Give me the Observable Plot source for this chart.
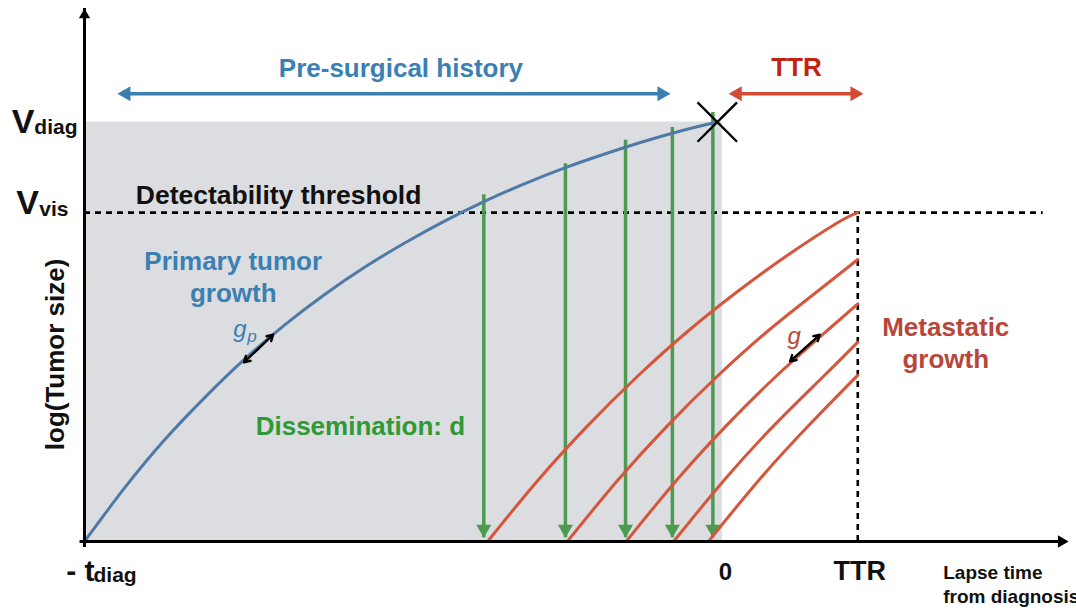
<!DOCTYPE html>
<html><head><meta charset="utf-8">
<script src="https://cdn.jsdelivr.net/npm/d3@7"></script>
<script src="https://cdn.jsdelivr.net/npm/@observablehq/plot@0.6"></script>
<style>
html,body{margin:0;padding:0;background:#fff;}
#chart{width:1076px;height:608px;overflow:hidden;}
</style></head><body><div id="chart"></div>
<script>
// ---------- data (x: time, -100 = -t_diag, 0 = diagnosis; y: log tumour size) ----------
const T_DIAG = -100;
const T_TTR = 22.2;
const X_END = 55.5;
const Y_END = 100;
const V_DIAG = 78.7;
const V_VIS = 61.7;
const GRAY_END = 0.8;
const THRESH_END = 51.5;

const primaryT = [-100, -93.7, -87.4, -81.0, -74.7, -68.4, -62.1, -55.8, -49.4, -43.1, -36.8, -30.5, -24.1, -17.8, -11.5, -5.2, 0];
const primaryV = [0, 10.0, 19.0, 27.0, 34.2, 40.6, 46.3, 51.4, 56.0, 60.1, 63.8, 67.1, 70.1, 72.7, 75.1, 77.2, 78.7];

const metaT = [
  [-36.3, -28.4, -20.5, -12.6, -4.7, 3.2, 11.1, 19.0, 22.2],
  [-23.7, -15.8, -7.9, 0.0, 7.9, 15.8, 22.2],
  [-14.4, -6.5, 1.4, 9.3, 17.2, 22.2],
  [-6.9, 1.0, 8.9, 16.8, 22.2],
  [-1.4, 6.5, 14.4, 22.2]
];
const metaV = [
  [0, 11.4, 21.7, 31.0, 39.4, 46.9, 53.7, 59.8, 61.7],
  [0, 11.4, 21.7, 31.0, 39.4, 46.9, 52.9],
  [0, 11.4, 21.7, 31.0, 39.4, 44.6],
  [0, 11.4, 21.7, 31.0, 37.4],
  [0, 11.4, 21.7, 31.2]
];

const dissemT = [-36.9, -24.0, -14.5, -7.1, -0.7];
const dissemTop = [63.2, 69.0, 73.4, 75.8, 78.6];
const dissemTip = 0.7;

const preSurgSpan = [-94.8, -7.4];
const ttrSpan = [1.8, 23.1];
const spanLevel = 84.0;

const gpArrow = [-74.8, 33.6, -70.2, 38.8];
const gArrow = [11.5, 33.8, 16.2, 38.8];

// ---------- colours & fonts ----------
const FONT = "Liberation Sans, Arial, Helvetica, sans-serif";
const BLUE_LINE = "#4f7aa6", BLUE_TXT = "#3a80b2", BLUE_ARROW = "#3b7fae";
const GREEN_LINE = "#4c9b50", GREEN_TXT = "#2f9a35";
const RED_LINE = "#d5563c", RED_TXT = "#b8463a", TTR_RED = "#c2230f", TTR_ARROW = "#d24b32";
const GRAY = "#dcdde0";

// ---------- tables ----------
const primary = primaryT.map((t, i) => ({t, v: primaryV[i]}));
const meta = metaT.flatMap((ts, k) => ts.map((t, i) => ({id: k, t, v: metaV[k][i]})));
const dissem = dissemT.map((t, i) => ({t, top: dissemTop[i], tip: dissemTip}));

const tri = (data, opts) => Plot.dot(data, {symbol: "triangle", stroke: "none", ...opts});
const txt = (data, opts) => Plot.text(data, {fontFamily: FONT, fontWeight: "bold", lineAnchor: "bottom", ...opts});

const plot = Plot.plot({
  width: 1076, height: 608,
  marginLeft: 84, marginRight: 8, marginTop: 8, marginBottom: 67,
  x: {domain: [T_DIAG, X_END], axis: null},
  y: {domain: [0, Y_END], axis: null},
  style: {background: "white", overflow: "visible"},
  marks: [
    Plot.rect([{x1: T_DIAG, x2: GRAY_END, y1: 0, y2: V_DIAG}], {x1: "x1", x2: "x2", y1: "y1", y2: "y2", fill: GRAY}),
    // detectability threshold & TTR dashed lines
    Plot.ruleY([{y: V_VIS, x1: T_DIAG, x2: THRESH_END}], {y: "y", x1: "x1", x2: "x2", stroke: "#000", strokeWidth: 2.6, strokeDasharray: "6,5"}),
    Plot.ruleX([{x: T_TTR, y1: 0, y2: V_VIS}], {x: "x", y1: "y1", y2: "y2", stroke: "#000", strokeWidth: 2.6, strokeDasharray: "6,5"}),
    // dissemination arrows
    Plot.ruleX(dissem, {x: "t", y1: "tip", y2: "top", stroke: GREEN_LINE, strokeWidth: 3.5, insetBottom: 10}),
    tri(dissem, {x: "t", y: "tip", r: 5.6, rotate: 180, dy: -8.7, fill: GREEN_LINE}),
    // metastatic growth curves
    Plot.line(meta, {x: "t", y: "v", z: "id", curve: "natural", stroke: RED_LINE, strokeWidth: 3}),
    // primary tumour growth
    Plot.line(primary, {x: "t", y: "v", curve: "natural", stroke: BLUE_LINE, strokeWidth: 3}),
    // axes
    Plot.ruleX([{x: T_DIAG, y1: 0, y2: Y_END}], {x: "x", y1: "y1", y2: "y2", stroke: "#000", strokeWidth: 3, insetTop: 6}),
    tri([{x: T_DIAG, y: Y_END}], {x: "x", y: "y", r: 4.2, dy: 6.5, fill: "#000"}),
    Plot.ruleY([{y: 0, x1: T_DIAG - 0.7, x2: X_END}], {y: "y", x1: "x1", x2: "x2", stroke: "#000", strokeWidth: 3, insetRight: 8}),
    tri([{x: X_END, y: 0}], {x: "x", y: "y", r: 4.6, rotate: 90, dx: -7, fill: "#000"}),
    // diagnosis mark
    Plot.dot([{x: 0, y: V_DIAG}], {x: "x", y: "y", symbol: "times", r: 18, stroke: "#000", strokeWidth: 2.4}),
    // span arrows
    Plot.ruleY([{y: spanLevel, x1: preSurgSpan[0], x2: preSurgSpan[1]}], {y: "y", x1: "x1", x2: "x2", stroke: BLUE_ARROW, strokeWidth: 3.5, insetLeft: 9, insetRight: 9}),
    tri([{x: preSurgSpan[0], y: spanLevel}], {x: "x", y: "y", r: 5.6, rotate: -90, dx: 8.7, fill: BLUE_ARROW}),
    tri([{x: preSurgSpan[1], y: spanLevel}], {x: "x", y: "y", r: 5.6, rotate: 90, dx: -8.7, fill: BLUE_ARROW}),
    Plot.ruleY([{y: spanLevel, x1: ttrSpan[0], x2: ttrSpan[1]}], {y: "y", x1: "x1", x2: "x2", stroke: TTR_ARROW, strokeWidth: 3.5, insetLeft: 9, insetRight: 9}),
    tri([{x: ttrSpan[0], y: spanLevel}], {x: "x", y: "y", r: 5.6, rotate: -90, dx: 8.7, fill: TTR_ARROW}),
    tri([{x: ttrSpan[1], y: spanLevel}], {x: "x", y: "y", r: 5.6, rotate: 90, dx: -8.7, fill: TTR_ARROW}),
    // growth-rate double arrows
    ...[gpArrow, gArrow].flatMap(([x1, y1, x2, y2]) => {
      const m = {x: (x1 + x2) / 2, y: (y1 + y2) / 2};
      return [
        Plot.arrow([{x1: m.x, y1: m.y, x2: x1, y2: y1}], {x1: "x1", y1: "y1", x2: "x2", y2: "y2", stroke: "#000", strokeWidth: 2.4, headLength: 9}),
        Plot.arrow([{x1: m.x, y1: m.y, x2: x2, y2: y2}], {x1: "x1", y1: "y1", x2: "x2", y2: "y2", stroke: "#000", strokeWidth: 2.4, headLength: 9})
      ];
    }),
    // texts
    txt([{x: -50, y: 87.2, s: "Pre-surgical history"}], {x: "x", y: "y", text: "s", fill: BLUE_TXT, fontSize: 26}),
    txt([{x: 12.5, y: 87.4, s: "TTR"}], {x: "x", y: "y", text: "s", fill: TTR_RED, fontSize: 26}),
    txt([{x: -91.9, y: 63.4, s: "Detectability threshold"}], {x: "x", y: "y", text: "s", fill: "#111", fontSize: 26.5, textAnchor: "start"}),
    txt([{x: -76.5, y: 44.9, s: "Primary tumor\ngrowth"}], {x: "x", y: "y", text: "s", fill: BLUE_TXT, fontSize: 26, lineHeight: 1.23}),
    txt([{x: -56.4, y: 19.9, s: "Dissemination: d"}], {x: "x", y: "y", text: "s", fill: GREEN_TXT, fontSize: 26}),
    txt([{x: 36.1, y: 32.5, s: "Metastatic\ngrowth"}], {x: "x", y: "y", text: "s", fill: RED_TXT, fontSize: 26, lineHeight: 1.23}),
    txt([{x: 35.7, y: -11.6, s: "Lapse time\nfrom diagnosis"}], {x: "x", y: "y", text: "s", fill: "#111", fontSize: 19, lineHeight: 1.26, textAnchor: "start"}),
    txt([{x: -103.2, y: 35.1, s: "log(Tumor size)"}], {x: "x", y: "y", text: "s", fill: "#111", fontSize: 26, rotate: -90}),
    // growth-rate symbols
    Plot.text([{x: -76.5, y: 38.3}], {x: "x", y: "y", text: () => "g", fontFamily: FONT, fontStyle: "italic", fontSize: 24, fill: BLUE_TXT, textAnchor: "start", lineAnchor: "bottom"}),
    Plot.text([{x: -76.5, y: 38.3}], {x: "x", y: "y", text: () => "p", fontFamily: FONT, fontStyle: "italic", fontSize: 17, fill: BLUE_TXT, textAnchor: "start", lineAnchor: "bottom", dx: 14, dy: 5}),
    Plot.text([{x: 11.1, y: 37.0}], {x: "x", y: "y", text: () => "g", fontFamily: FONT, fontStyle: "italic", fontSize: 24, fill: RED_TXT, textAnchor: "start", lineAnchor: "bottom"}),
    // axis value labels
    txt([{x: 0, y: -7.3, s: "0"}], {x: "x", y: "y", text: "s", fill: "#111", fontSize: 24, dx: 8}),
    txt([{x: T_TTR, y: -7.3, s: "TTR"}], {x: "x", y: "y", text: "s", fill: "#111", fontSize: 27, dx: 2}),
    txt([{x: T_DIAG, y: -7.5, s: "- t"}], {x: "x", y: "y", text: "s", fill: "#111", fontSize: 30, textAnchor: "end", dx: 10}),
    txt([{x: T_DIAG, y: -7.5, s: "diag"}], {x: "x", y: "y", text: "s", fill: "#111", fontSize: 21, textAnchor: "start", dx: 9, dy: 1}),
    txt([{x: T_DIAG, y: V_DIAG, s: "V"}], {x: "x", y: "y", text: "s", fill: "#111", fontSize: 34, textAnchor: "end", dx: -50, dy: 10.5}),
    txt([{x: T_DIAG, y: V_DIAG, s: "diag"}], {x: "x", y: "y", text: "s", fill: "#111", fontSize: 21, textAnchor: "end", dx: -7, dy: 11.5}),
    txt([{x: T_DIAG, y: V_VIS, s: "V"}], {x: "x", y: "y", text: "s", fill: "#111", fontSize: 34, textAnchor: "end", dx: -45.5, dy: 1.5}),
    txt([{x: T_DIAG, y: V_VIS, s: "vis"}], {x: "x", y: "y", text: "s", fill: "#111", fontSize: 21, textAnchor: "end", dx: -16, dy: 3})
  ]
});
document.getElementById("chart").appendChild(plot);
</script></body></html>
